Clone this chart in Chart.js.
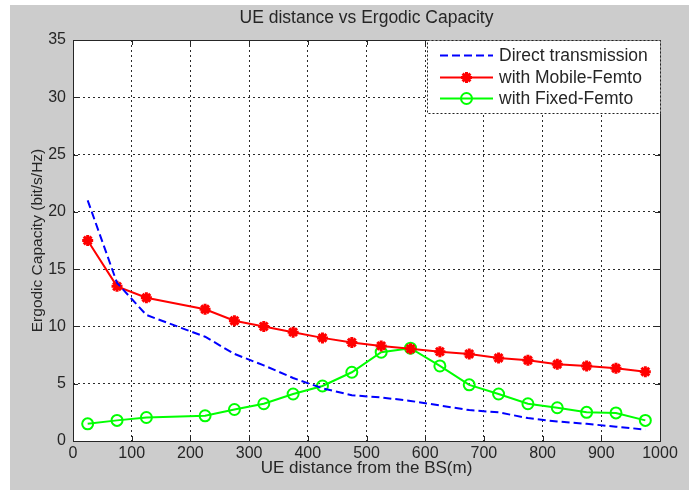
<!DOCTYPE html>
<html><head><meta charset="utf-8">
<script src="https://cdn.jsdelivr.net/npm/chart.js@4/dist/chart.umd.min.js"></script>
<style>html,body{margin:0;padding:0;background:#fff;overflow:hidden;}</style>
</head><body>
<canvas id="c" width="689" height="490" style="display:block;width:689px;height:490px"></canvas>
<script>
const distances = [25,75,125,225,275,325,375,425,475,525,575,625,675,725,775,825,875,925,975];
const directTx = [21.0,13.8,11.0,9.1,7.6,6.6,5.5,4.6,4.0,3.8,3.5,3.1,2.7,2.5,2.0,1.7,1.5,1.25,1.0];
const mobileFemto = [17.5,13.5,12.5,11.5,10.5,10.0,9.5,9.0,8.6,8.3,8.05,7.8,7.6,7.25,7.05,6.7,6.55,6.35,6.05];
const fixedFemto = [1.5,1.8,2.05,2.2,2.75,3.25,4.1,4.8,6.0,7.75,8.1,6.55,4.9,4.1,3.25,2.9,2.5,2.45,1.8];
const xTicks = [0,100,200,300,400,500,600,700,800,900,1000];
const yTicks = [0,5,10,15,20,25,30,35];
const seriesNames = ['Direct transmission','with Mobile-Femto','with Fixed-Femto'];

const FONT = 'Arial, "Liberation Sans", sans-serif';
const TXT = '#262626';

const bgPlugin = {
  id: 'bg',
  beforeDraw(chart) {
    const {ctx, chartArea: a} = chart;
    ctx.save();
    ctx.fillStyle = '#ffffff';
    ctx.fillRect(0, 0, chart.width, chart.height);
    ctx.fillStyle = '#cccccc';
    ctx.fillRect(10, 5, chart.width - 10, chart.height - 5);
    ctx.fillStyle = '#ffffff';
    ctx.fillRect(a.left, a.top, a.right - a.left, a.bottom - a.top);
    ctx.restore();
  }
};

const boxPlugin = {
  id: 'box',
  afterDatasetsDraw(chart) {
    const {ctx, chartArea: a, scales} = chart;
    ctx.save();
    ctx.strokeStyle = '#262626';
    ctx.lineWidth = 1;
    ctx.setLineDash([]);
    ctx.beginPath();
    xTicks.forEach(v => {
      const x = Math.round(scales.x.getPixelForValue(v)) + 0.5;
      ctx.moveTo(x, a.bottom); ctx.lineTo(x, a.bottom - 5);
      ctx.moveTo(x, a.top); ctx.lineTo(x, a.top + 5);
    });
    yTicks.forEach(v => {
      const y = Math.round(scales.y.getPixelForValue(v)) + 0.5;
      ctx.moveTo(a.left, y); ctx.lineTo(a.left + 5, y);
      ctx.moveTo(a.right, y); ctx.lineTo(a.right - 5, y);
    });
    ctx.stroke();
    ctx.strokeRect(Math.round(a.left) + 0.5, Math.round(a.top) + 0.5, Math.round(a.right - a.left), Math.round(a.bottom - a.top));
    ctx.restore();
  },
  afterDraw(chart) {
    const {ctx, chartArea: a} = chart;
    const ds = chart.data.datasets;
    const bx = 427.5, by = Math.round(a.top) + 0.5, bw = Math.round(a.right) - 427, bh = 73;
    ctx.save();
    ctx.fillStyle = '#ffffff';
    ctx.fillRect(bx, by, bw, bh);
    ctx.strokeStyle = '#222';
    ctx.lineWidth = 1;
    ctx.setLineDash([2, 2]);
    ctx.strokeRect(bx, by, bw, bh);
    const rows = [by + 15, by + 37, by + 58];
    ds.forEach((d, i) => {
      const y = rows[i];
      ctx.setLineDash(d.borderDash || []);
      ctx.strokeStyle = d.borderColor;
      ctx.lineWidth = d.borderWidth;
      ctx.beginPath(); ctx.moveTo(440, y); ctx.lineTo(493, y); ctx.stroke();
      ctx.setLineDash([]);
      if (d.pointRadius > 0) {
        ctx.lineWidth = d.pointBorderWidth;
        ctx.fillStyle = d.pointBackgroundColor;
        ctx.strokeStyle = d.pointBorderColor;
        Chart.helpers.drawPoint(ctx, {pointStyle: d.pointStyle, radius: d.pointRadius, borderWidth: d.pointBorderWidth, rotation: 0}, 466.5, y);
      }
      ctx.fillStyle = TXT;
      ctx.font = '17.5px ' + FONT;
      ctx.textBaseline = 'middle';
      ctx.textAlign = 'left';
      ctx.fillText(d.label, 499, y + 1);
    });
    ctx.restore();
  }
};

new Chart(document.getElementById('c'), {
  type: 'line',
  data: {
    datasets: [
      {label: seriesNames[0], data: distances.map((x, i) => ({x, y: directTx[i]})),
       borderColor: '#0000ff', backgroundColor: '#0000ff', borderWidth: 2, borderDash: [8, 4],
       pointRadius: 0, pointBorderWidth: 0, pointStyle: false, tension: 0},
      {label: seriesNames[1], data: distances.map((x, i) => ({x, y: mobileFemto[i]})),
       borderColor: '#ff0000', backgroundColor: '#ff0000', borderWidth: 2,
       pointStyle: 'star', pointRadius: 5.5, pointBorderWidth: 3, pointBorderColor: '#ff0000', pointBackgroundColor: '#ff0000', tension: 0},
      {label: seriesNames[2], data: distances.map((x, i) => ({x, y: fixedFemto[i]})),
       borderColor: '#00ff00', backgroundColor: 'rgba(0,0,0,0)', borderWidth: 2,
       pointStyle: 'circle', pointRadius: 5.5, pointBorderWidth: 2, pointBorderColor: '#00ff00', pointBackgroundColor: 'rgba(0,0,0,0)', tension: 0}
    ]
  },
  options: {
    responsive: false,
    animation: false,
    devicePixelRatio: 1,
    layout: {padding: {left: 0, right: 29, top: 0, bottom: 0}},
    plugins: {
      legend: {display: false},
      tooltip: {enabled: false},
      title: {display: true, fullSize: false, text: 'UE distance vs Ergodic Capacity', color: TXT,
              font: {family: FONT, size: 17.5, weight: 'normal', lineHeight: 1.2},
              padding: {top: 7.5, bottom: 11.5}}
    },
    scales: {
      x: {type: 'linear', min: 0, max: 1000,
          afterBuildTicks: s => { s.ticks = xTicks.map(v => ({value: v})); },
          afterFit: s => { s.height = 49; },
          grid: {color: '#2a2a2a', lineWidth: 1, drawTicks: false},
          border: {display: false, dash: [2, 3]},
          ticks: {color: TXT, font: {family: FONT, size: 16}, padding: 3, maxRotation: 0, autoSkip: false,
                  callback: v => String(v)},
          title: {display: true, text: 'UE distance from the BS(m)', color: TXT, font: {family: FONT, size: 17, lineHeight: 1.2}, padding: {top: 4, bottom: 11.5}}
      },
      y: {min: 0, max: 35,
          afterBuildTicks: s => { s.ticks = yTicks.map(v => ({value: v})); },
          afterFit: s => { s.width = 73; },
          grid: {color: '#2a2a2a', lineWidth: 1, drawTicks: false},
          border: {display: false, dash: [2, 3]},
          ticks: {color: TXT, font: {family: FONT, size: 16}, padding: 7, autoSkip: false,
                  callback: v => String(v)},
          title: {display: true, text: 'Ergodic Capacity (bit/s/Hz)', color: TXT, font: {family: FONT, size: 15.5, lineHeight: 1.2}, padding: {top: 28.7, bottom: 4}}
      }
    }
  },
  plugins: [bgPlugin, boxPlugin]
});
</script>
</body></html>
